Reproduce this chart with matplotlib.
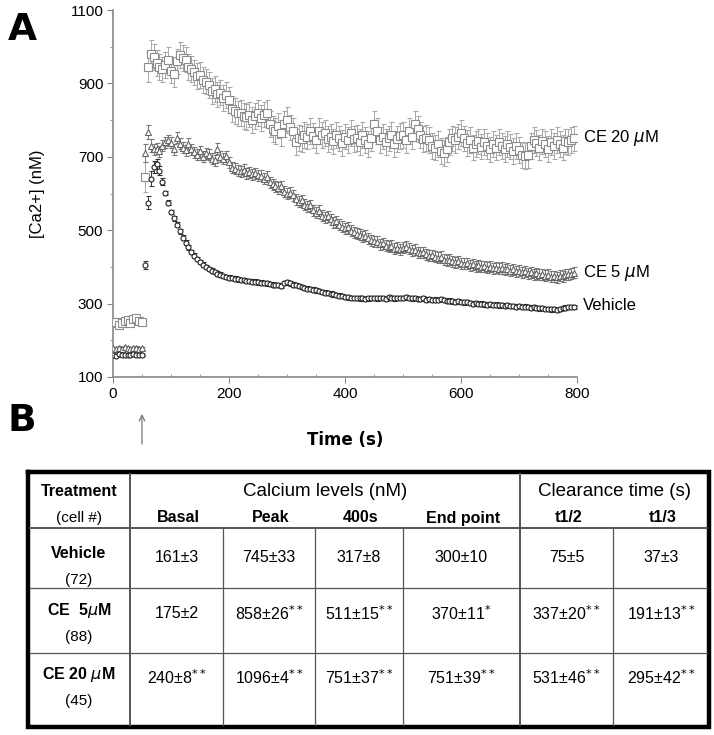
import numpy as np
import matplotlib
matplotlib.use("Agg")
import matplotlib.pyplot as plt

plt.rcParams['font.family'] = ['Liberation Sans', 'DejaVu Sans']

# --- panel A data: [Ca2+] (nM) traces ---
# basal readings every 5 s from 0 to 50 s, stimulus added at ~55 s
basal_time = np.arange(0, 55, 5)
post_time = np.arange(55, 800, 5)

vehicle_basal = [160, 158, 162, 160, 159, 161, 160, 162, 160, 161, 160]
ce5_basal = [178, 176, 180, 177, 181, 178, 176, 179, 180, 177, 178]
ce20_basal = [247, 250, 243, 248, 252, 255, 247, 258, 260, 252, 250]

vehicle_post = [
    405, 575, 640, 672, 680, 662, 632, 602, 575, 550,
    532, 515, 497, 480, 466, 453, 441, 431, 421, 413,
    406, 400, 395, 390, 386, 382, 379, 376, 373, 371,
    369, 368, 366, 365, 364, 362, 361, 360, 360, 358,
    357, 356, 355, 354, 352, 351, 350, 349, 356, 358,
    355, 352, 350, 348, 346, 343, 341, 340, 338, 336,
    334, 332, 330, 329, 327, 325, 324, 322, 320, 318,
    317, 316, 315, 316, 314, 315, 313, 314, 316, 315,
    314, 316, 315, 313, 317, 316, 314, 315, 316, 315,
    317, 316, 314, 315, 313, 312, 314, 311, 312, 310,
    311, 309, 312, 310, 307, 308, 306, 305, 306, 304,
    303, 304, 302, 300, 301, 299, 300, 298, 297, 298,
    296, 297, 295, 296, 294, 295, 293, 294, 292, 293,
    291, 292, 290, 289, 290, 288, 287, 288, 286, 285,
    284, 285, 283, 286, 288, 289, 290, 291, 290]

ce5_post = [
    710, 768, 730, 720, 722, 715, 730, 740, 745, 738,
    720, 752, 735, 725, 718, 735, 720, 712, 705, 715,
    700, 710, 705, 695, 690, 722, 700, 695, 702, 685,
    670, 668, 662, 660, 665, 655, 658, 652, 655, 650,
    648, 640, 645, 630, 625, 620, 615, 620, 605, 600,
    602, 595, 585, 578, 582, 570, 565, 568, 555, 548,
    553, 540, 535, 538, 530, 522, 525, 515, 510, 505,
    508, 498, 495, 490, 488, 482, 485, 478, 472, 470,
    468, 462, 465, 458, 455, 457, 450, 452, 448, 452,
    455, 450, 445, 447, 440, 438, 440, 434, 430, 432,
    427, 425, 428, 420, 418, 420, 415, 412, 415, 410,
    408, 410, 405, 407, 402, 404, 400, 402, 398, 400,
    396, 398, 395, 397, 393, 395, 390, 393, 388, 390,
    386, 388, 383, 385, 380, 383, 378, 380, 376, 378,
    373, 375, 372, 376, 374, 378, 380, 382, 384]

ce20_post = [
    645, 945, 980, 972, 955, 945, 938, 950, 965, 935,
    925, 960, 978, 970, 965, 945, 940, 930, 920, 922,
    910, 905, 895, 880, 885, 870, 875, 860, 868, 855,
    830, 825, 818, 820, 812, 808, 815, 800, 812, 820,
    805, 815, 820, 790, 775, 770, 785, 765, 790, 800,
    780, 770, 740, 752, 748, 760, 755, 770, 758, 745,
    770, 760, 765, 748, 755, 742, 760, 750, 738, 755,
    745, 765, 748, 752, 740, 760, 745, 735, 750, 790,
    770, 745, 755, 740, 750, 760, 735, 748, 756, 760,
    745, 770, 755, 790, 775, 760, 748, 752, 745, 730,
    725, 735, 715, 710, 720, 740, 750, 745, 755, 765,
    750, 738, 745, 725, 735, 742, 728, 740, 730, 720,
    735, 725, 740, 730, 722, 735, 728, 715, 730, 718,
    705, 702, 705, 730, 745, 738, 725, 742, 735, 722,
    740, 730, 745, 735, 725, 742, 740, 745, 750]

# SEM: basal, first points after stimulus, rest of the trace
vehicle_sem = (3, [12, 18, 20, 16, 14, 12, 10], 6)
ce5_sem = (4, [25, 20, 18, 16], 15)
ce20_sem = (5, [40, 40, 38], 35)

series_labels = ['Vehicle', 'CE 5 $\\mu$M', 'CE 20 $\\mu$M']

# --- panel B table ---
table_rows = ['Vehicle', 'CE  5$\\mu$M', 'CE 20 $\\mu$M']
table_n = ['(72)', '(88)', '(45)']
table_cols = ['Basal', 'Peak', '400s', 'End point', 't1/2', 't1/3']
table_vals = [
    ['161±3', '745±33', '317±8', '300±10', '75±5', '37±3'],
    ['175±2', '858±26$^{**}$', '511±15$^{**}$', '370±11$^{*}$', '337±20$^{**}$', '191±13$^{**}$'],
    ['240±8$^{**}$', '1096±4$^{**}$', '751±37$^{**}$', '751±39$^{**}$', '531±46$^{**}$', '295±42$^{**}$'],
]


def sem_array(spec, n_post):
    basal_e, early, rest = spec
    post = np.full(n_post, float(rest))
    post[:len(early)] = early
    return np.concatenate([np.full(len(basal_time), float(basal_e)), post])


fig = plt.figure(figsize=(7.14, 7.35), dpi=100)
ax = fig.add_axes([113 / 714, 358 / 735, 464 / 714, 367 / 735])

t_all = np.concatenate([basal_time, post_time])
styles = [
    (vehicle_basal, vehicle_post, vehicle_sem, 'o', '#222222', '#333333', 3.6),
    (ce5_basal, ce5_post, ce5_sem, '^', '#666666', '#777777', 5.0),
    (ce20_basal, ce20_post, ce20_sem, 's', '#8c8c8c', '#a8a8a8', 5.4),
]
for zord, (b, p, sem, mk, mcol, ecol, ms) in zip([5, 4, 3], styles):
    y = np.concatenate([b, p])
    err = sem_array(sem, len(p))
    ax.errorbar(t_all, y, yerr=err, fmt=mk, ms=ms, mfc='white', mec=mcol, mew=0.8,
                ecolor=ecol, elinewidth=0.7, capsize=1.8, capthick=0.7, zorder=zord)

ax.set_xlim(0, 800)
ax.set_ylim(100, 1100)
ax.set_xticks([0, 200, 400, 600, 800])
ax.set_xticks(np.arange(0, 801, 50), minor=True)
ax.set_yticks([100, 300, 500, 700, 900, 1100])
ax.set_yticks(np.arange(100, 1101, 100), minor=True)
for s in ['top', 'right']:
    ax.spines[s].set_visible(False)
for s in ['left', 'bottom']:
    ax.spines[s].set_color('#888888')
    ax.spines[s].set_linewidth(1.2)
ax.tick_params(which='major', length=4, color='#888888', labelsize=11, pad=3)
ax.tick_params(which='minor', length=2.5, color='#888888')
ax.tick_params(axis='x', which='minor', direction='in')
ax.set_ylabel('[Ca2+] (nM)', fontsize=12, labelpad=18)
ax.set_xlabel('Time (s)', fontsize=12, fontweight='bold', family='DejaVu Sans', labelpad=22)

# series labels at the end of each trace
for lab, last in zip(series_labels, [vehicle_post[-1] + 6, ce5_post[-1], ce20_post[-1]]):
    ax.text(810, last, lab, fontsize=12, va='center', ha='left', clip_on=False)

# stimulus arrow under the axis
ax.annotate('', xy=(50, -0.093), xytext=(50, -0.19), xycoords=ax.get_xaxis_transform(),
            textcoords=ax.get_xaxis_transform(),
            arrowprops=dict(arrowstyle='->', color='#777777', lw=0.9))

# panel letters and table drawn in pixel coords on a full-figure axes
tax = fig.add_axes([0, 0, 1, 1], zorder=-1)
tax.set_xlim(0, 714)
tax.set_ylim(735, 0)
tax.axis('off')
tax.text(22, 30, 'A', fontsize=27, fontweight='bold', ha='center', va='center', family='DejaVu Sans')
tax.text(22, 421, 'B', fontsize=27, fontweight='bold', ha='center', va='center', family='DejaVu Sans')

L, R, T, B = 28, 709, 472, 727
col_edges = [130, 223, 315, 403, 520, 613, R]
row_edges = [528, 588, 653, B]
gray = '#555555'

tax.plot([L, R, R, L, L], [T, T, B, B, T], color='black', lw=3.2, solid_joinstyle='miter')
tax.plot([L + 2, R - 2], [row_edges[0], row_edges[0]], color=gray, lw=1.4)
for yv in row_edges[1:3]:
    tax.plot([L + 2, R - 2], [yv, yv], color=gray, lw=0.9)
for xv in [col_edges[0], col_edges[4]]:
    tax.plot([xv, xv], [T + 2, B - 2], color=gray, lw=1.4)
for xv in [col_edges[1], col_edges[2], col_edges[3], col_edges[5]]:
    tax.plot([xv, xv], [row_edges[0], B - 2], color=gray, lw=0.9)

centers = [(a + b) / 2 for a, b in zip(col_edges[:-1], col_edges[1:])]
tax.text((L + col_edges[0]) / 2, 491, 'Treatment', fontsize=11.5, fontweight='bold', ha='center', va='center')
tax.text((L + col_edges[0]) / 2, 518, '(cell #)', fontsize=11, ha='center', va='center')
tax.text((col_edges[0] + col_edges[4]) / 2, 491, 'Calcium levels (nM)', fontsize=13.5, ha='center', va='center')
tax.text((col_edges[4] + R) / 2, 491, 'Clearance time (s)', fontsize=13.5, ha='center', va='center')
for cx, lab in zip(centers, table_cols):
    tax.text(cx + 2, 518, lab, fontsize=11.5, fontweight='bold', ha='center', va='center')

row_mid = [557, 614, 678]
for i, (name, n) in enumerate(zip(table_rows, table_n)):
    tax.text((L + col_edges[0]) / 2, row_mid[i] - 4, name, fontsize=11.5, fontweight='bold', ha='center', va='center')
    tax.text((L + col_edges[0]) / 2, row_mid[i] + 23, n, fontsize=11, ha='center', va='center')
    for cx, v in zip(centers, table_vals[i]):
        tax.text(cx, row_mid[i], v, fontsize=11.5, ha='center', va='center')

fig.savefig('out.png', dpi=100)
